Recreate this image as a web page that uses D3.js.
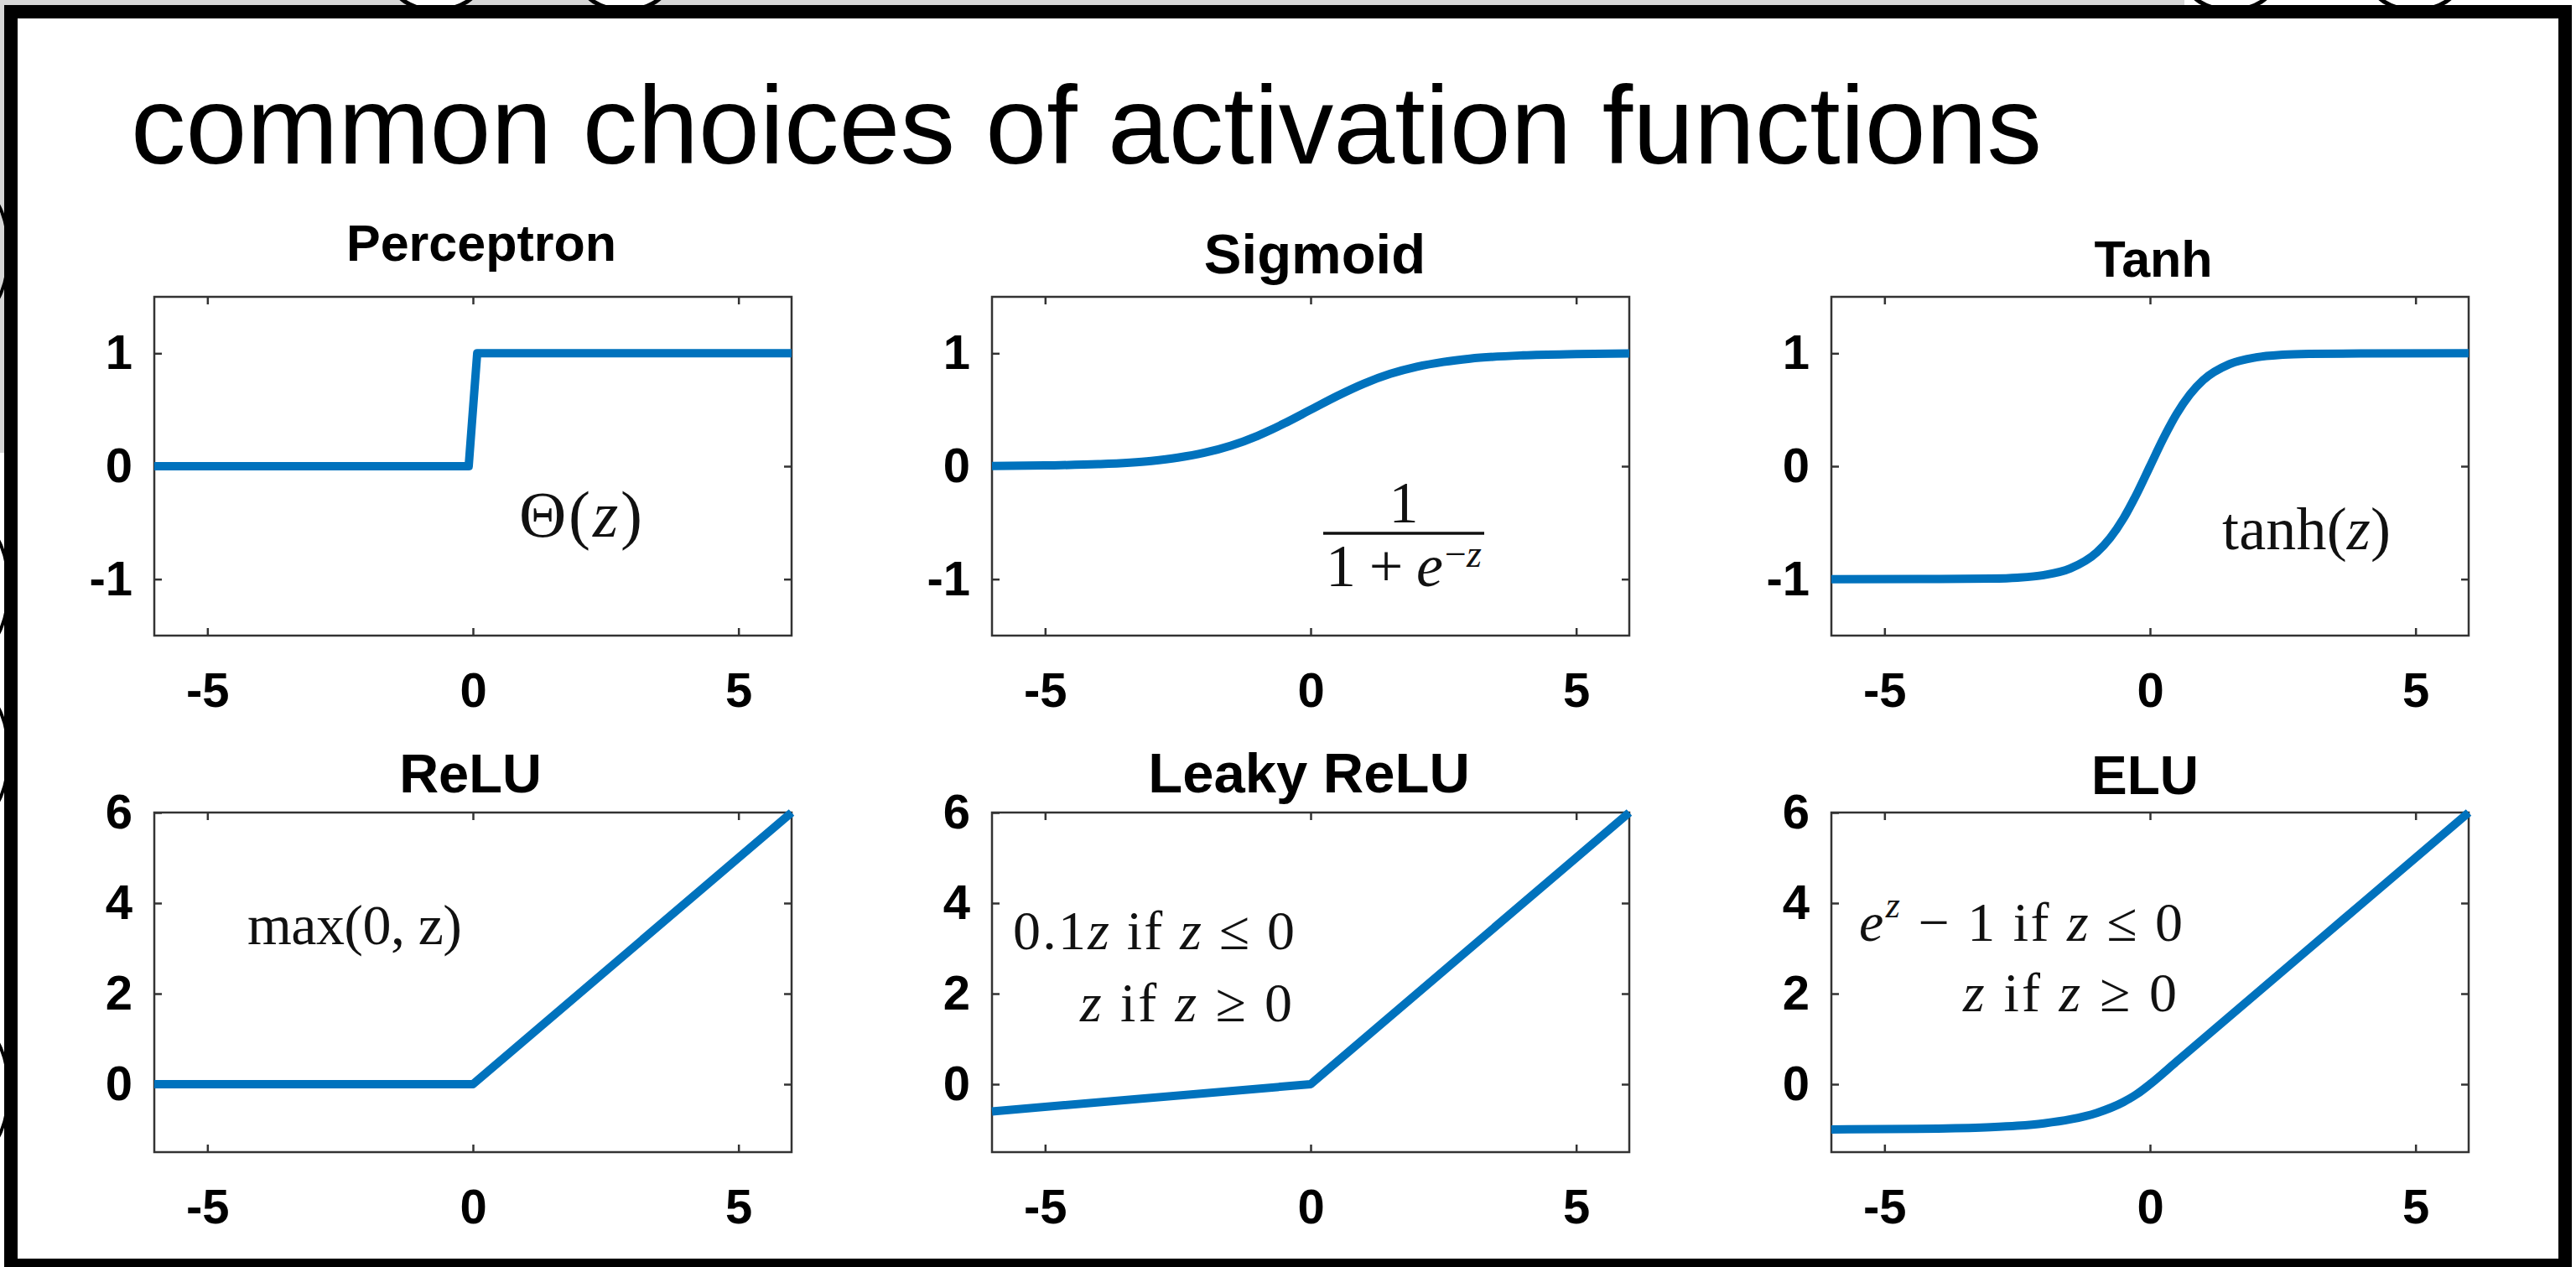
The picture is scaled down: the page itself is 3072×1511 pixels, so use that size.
<!DOCTYPE html>
<html>
<head>
<meta charset="utf-8">
<script src="https://cdn.jsdelivr.net/npm/d3@7"></script>
<style>
  body { margin: 0; background: #fff; }
  svg { display: block; }
  text { white-space: pre; }
</style>
</head>
<body>
<div id="chart"></div>
<script>
const W = 3072, H = 1511;

// ---- data ----
const titles = ['Perceptron', 'Sigmoid', 'Tanh', 'ReLU', 'Leaky ReLU', 'ELU'];
const xDomain = [-6, 6];
const xTicks = [-5, 0, 5];
const yDomainTop = [-1.5, 1.5];
const yTicksTop = [-1, 0, 1];
const yDomainBottom = [-1.5, 6];
const yTicksBottom = [0, 2, 4, 6];

const perceptronZ = [-6, -0.08, 0.08, 6];
const perceptronV = [0, 0, 1, 1];

const sigmoidZ = [-6, -5, -4, -3, -2.5, -2, -1.5, -1, -0.5, 0, 0.5, 1, 1.5, 2, 2.5, 3, 4, 5, 6];
const sigmoidV = [0.002, 0.007, 0.018, 0.047, 0.076, 0.119, 0.182, 0.269, 0.378, 0.5, 0.622, 0.731, 0.818, 0.881, 0.924, 0.953, 0.982, 0.993, 0.998];

const tanhZ = [-6, -4, -3, -2.5, -2, -1.5, -1, -0.75, -0.5, -0.25, 0, 0.25, 0.5, 0.75, 1, 1.5, 2, 2.5, 3, 4, 6];
const tanhV = [-1, -0.999, -0.995, -0.987, -0.964, -0.905, -0.762, -0.635, -0.462, -0.245, 0, 0.245, 0.462, 0.635, 0.762, 0.905, 0.964, 0.987, 0.995, 0.999, 1];

const reluZ = [-6, 0, 6];
const reluV = [0, 0, 6];

const leakyZ = [-6, 0, 6];
const leakyV = [-0.6, 0, 6];

const eluZ = [-6, -5, -4, -3, -2.5, -2, -1.5, -1, -0.5, -0.25, 0, 0.5, 1, 2, 4, 6];
const eluV = [-0.998, -0.993, -0.982, -0.95, -0.918, -0.865, -0.777, -0.632, -0.393, -0.221, 0, 0.5, 1, 2, 4, 6];

// ---- layout ----
const colCenters = [564, 1563, 2564];
const halfW = 380;
const rows = [{ top: 354, bottom: 758 }, { top: 969, bottom: 1374 }];
const titleSize = [61, 67, 61, 65, 67, 64];
const titleBase = [311, 326, 330, 945, 945, 947];
const titleDx = [10, 5, 4, -3, -2, -6];

const blue = '#0072BD';
const axisColor = '#333';
const sans = '"Liberation Sans", Arial, Helvetica, sans-serif';
const serif = '"Liberation Serif", "Times New Roman", serif';

const panels = [
  { z: perceptronZ, v: perceptronV, yDomain: yDomainTop, yTicks: yTicksTop, curve: d3.curveLinear },
  { z: sigmoidZ, v: sigmoidV, yDomain: yDomainTop, yTicks: yTicksTop, curve: d3.curveMonotoneX },
  { z: tanhZ, v: tanhV, yDomain: yDomainTop, yTicks: yTicksTop, curve: d3.curveMonotoneX },
  { z: reluZ, v: reluV, yDomain: yDomainBottom, yTicks: yTicksBottom, curve: d3.curveLinear },
  { z: leakyZ, v: leakyV, yDomain: yDomainBottom, yTicks: yTicksBottom, curve: d3.curveLinear },
  { z: eluZ, v: eluV, yDomain: yDomainBottom, yTicks: yTicksBottom, curve: d3.curveMonotoneX }
];

const svg = d3.select('#chart').append('svg')
    .attr('width', W)
    .attr('height', H);

// slide surroundings (grey desk, bits of neighbouring slides, black frame)
svg.append('rect').attr('width', W).attr('height', H).attr('fill', '#fff');
svg.append('rect').attr('width', 2605).attr('height', 14).attr('fill', '#d6d6d6');
svg.append('rect').attr('width', 14).attr('height', 540).attr('fill', '#d6d6d6');
[[520, -22], [745, -22], [2660, -22], [2880, -22]].forEach(([cx, cy]) => {
  svg.append('ellipse').attr('cx', cx).attr('cy', cy).attr('rx', 52).attr('ry', 34)
      .attr('fill', '#fff').attr('stroke', '#000').attr('stroke-width', 5);
});
[[-20, 300], [-20, 700], [-20, 900], [-20, 1300]].forEach(([cx, cy]) => {
  svg.append('ellipse').attr('cx', cx).attr('cy', cy).attr('rx', 30).attr('ry', 70)
      .attr('fill', 'none').attr('stroke', '#000').attr('stroke-width', 4);
});
svg.append('rect')
    .attr('x', 13).attr('y', 14).attr('width', 3046).attr('height', 1495)
    .attr('fill', '#fff').attr('stroke', '#000').attr('stroke-width', 16);

svg.append('text')
    .attr('x', 156).attr('y', 195)
    .attr('font-family', sans).attr('font-size', 131)
    .attr('fill', '#000')
    .text('common choices of activation functions');

panels.forEach((p, i) => {
  const cx = colCenters[i % 3];
  const row = rows[Math.floor(i / 3)];
  const x = d3.scaleLinear().domain(xDomain).range([cx - halfW, cx + halfW]);
  const y = d3.scaleLinear().domain(p.yDomain).range([row.bottom, row.top]);

  const g = svg.append('g');

  const fmt = d => String(d);
  const styleAxis = sel => {
    sel.select('.domain').remove();
    sel.selectAll('.tick line').attr('stroke', axisColor).attr('stroke-width', 2.5);
    sel.selectAll('.tick text')
        .attr('fill', '#000')
        .attr('font-family', sans)
        .attr('font-weight', 'bold')
        .attr('font-size', 58);
  };

  g.append('g').attr('transform', `translate(0,${row.bottom})`)
      .call(d3.axisBottom(x).tickValues(xTicks).tickSize(-9).tickPadding(44).tickFormat(fmt))
      .call(styleAxis);
  g.append('g').attr('transform', `translate(0,${row.top})`)
      .call(d3.axisTop(x).tickValues(xTicks).tickSize(-9).tickFormat(''))
      .call(styleAxis);
  g.append('g').attr('transform', `translate(${cx - halfW},0)`)
      .call(d3.axisLeft(y).tickValues(p.yTicks).tickSize(-9).tickPadding(26).tickFormat(fmt))
      .call(styleAxis);
  g.append('g').attr('transform', `translate(${cx + halfW},0)`)
      .call(d3.axisRight(y).tickValues(p.yTicks).tickSize(-9).tickFormat(''))
      .call(styleAxis);

  g.append('rect')
      .attr('x', x.range()[0]).attr('y', row.top)
      .attr('width', x.range()[1] - x.range()[0]).attr('height', row.bottom - row.top)
      .attr('fill', 'none').attr('stroke', axisColor).attr('stroke-width', 2.5);

  const line = d3.line()
      .x(d => x(d[0]))
      .y(d => y(d[1]))
      .curve(p.curve);
  g.append('path')
      .datum(d3.zip(p.z, p.v))
      .attr('d', line)
      .attr('fill', 'none')
      .attr('stroke', blue)
      .attr('stroke-width', 10)
      .attr('stroke-linejoin', 'round');

  g.append('text')
      .attr('x', cx + titleDx[i]).attr('y', titleBase[i])
      .attr('text-anchor', 'middle')
      .attr('font-family', sans).attr('font-weight', 'bold')
      .attr('font-size', titleSize[i])
      .attr('fill', '#000')
      .text(titles[i]);
});

// ---- formula annotations ----
function mathText(x, yb, size, anchor, len, parts) {
  const t = svg.append('text')
      .attr('x', x).attr('y', yb)
      .attr('font-family', serif).attr('font-size', size)
      .attr('text-anchor', anchor).attr('fill', '#111');
  if (len) t.attr('textLength', len).attr('lengthAdjust', 'spacing');
  parts.forEach(p => {
    const s = t.append('tspan').text(p.t);
    if (p.i) s.attr('font-style', 'italic');
    if (p.dy) s.attr('dy', p.dy);
    if (p.s) s.attr('font-size', p.s);
  });
  return t;
}

mathText(619, 640, 78, 'start', 147, [{ t: 'Θ(' }, { t: 'z', i: true }, { t: ')' }]);

mathText(1674, 623, 70, 'middle', null, [{ t: '1' }]);
svg.append('line').attr('x1', 1578).attr('x2', 1770).attr('y1', 636).attr('y2', 636)
    .attr('stroke', '#111').attr('stroke-width', 3.5);
mathText(1581, 699, 72, 'start', 140, [{ t: '1 + ' }, { t: 'e', i: true }]);
mathText(1723, 676, 46, 'start', null, [{ t: '−' }, { t: 'z', i: true }]);

mathText(2650, 655, 72, 'start', 201, [{ t: 'tanh(' }, { t: 'z', i: true }, { t: ')' }]);

mathText(295, 1126, 68, 'start', 256, [{ t: 'max(0, z)' }]);

mathText(1544, 1132, 66, 'end', 336, [
  { t: '0.1' }, { t: 'z', i: true }, { t: ' if ' }, { t: 'z', i: true }, { t: ' ≤ 0' }
]);
mathText(1541, 1218, 66, 'end', 253, [
  { t: 'z', i: true }, { t: ' if ' }, { t: 'z', i: true }, { t: ' ≥ 0' }
]);

mathText(2603, 1122, 66, 'end', 386, [
  { t: 'e', i: true }, { t: 'z', i: true, s: 44, dy: -28 }, { t: ' − 1 if ', dy: 28 },
  { t: 'z', i: true }, { t: ' ≤ 0' }
]);
mathText(2596, 1206, 66, 'end', 255, [
  { t: 'z', i: true }, { t: ' if ' }, { t: 'z', i: true }, { t: ' ≥ 0' }
]);
</script>
</body>
</html>
